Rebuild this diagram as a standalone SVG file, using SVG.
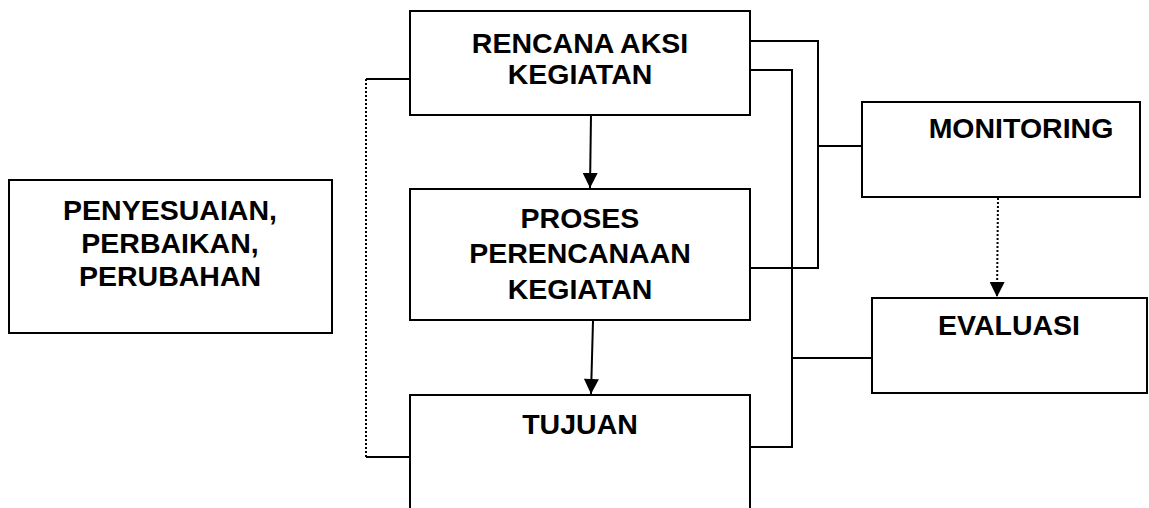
<svg xmlns="http://www.w3.org/2000/svg" width="1149" height="508" viewBox="0 0 1149 508">
<style>
.box{fill:#fff;stroke:#000;stroke-width:2}
.lbl{font-family:"Liberation Sans",Arial,sans-serif;font-weight:bold;font-size:28.5px;fill:#000;text-anchor:middle}
.ln{fill:none;stroke:#000;stroke-width:2}
.dot{fill:none;stroke:#000;stroke-width:2;stroke-dasharray:2 2}
</style>
<defs>
<marker id="ah" viewBox="0 0 10 10" refX="10" refY="5" markerWidth="16" markerHeight="15" markerUnits="userSpaceOnUse" orient="auto">
<path d="M0,0 L10,5 L0,10 Z" fill="#000"/>
</marker>
</defs>
<g id="connectors">
<polyline class="ln" points="750,41 818,41 818,268 750,268"/>
<polyline class="ln" points="750,70 792,70 792,447 750,447"/>
<line class="ln" x1="818" y1="146" x2="862" y2="146"/>
<line class="ln" x1="792" y1="358" x2="872" y2="358"/>
<line class="ln" x1="410" y1="79" x2="366" y2="79"/>
<line class="ln" x1="410" y1="457" x2="366" y2="457"/>
<line class="dot" x1="366" y1="79" x2="366" y2="457"/>
<line class="ln" x1="591" y1="115" x2="590" y2="188" marker-end="url(#ah)"/>
<line class="ln" x1="593" y1="321" x2="591" y2="394" marker-end="url(#ah)"/>
<line class="dot" x1="998" y1="198" x2="997" y2="297" marker-end="url(#ah)"/>
</g>
<g id="rencana">
<rect class="box" x="410" y="11" width="340" height="104"/>
<text class="lbl" x="580" y="53">RENCANA AKSI</text>
<text class="lbl" x="580" y="84">KEGIATAN</text>
</g>
<g id="proses">
<rect class="box" x="410" y="189" width="340" height="131"/>
<text class="lbl" x="580" y="228">PROSES</text>
<text class="lbl" x="580" y="263">PERENCANAAN</text>
<text class="lbl" x="580" y="299">KEGIATAN</text>
</g>
<g id="tujuan">
<rect class="box" x="410" y="395" width="340" height="130"/>
<text class="lbl" x="580" y="434">TUJUAN</text>
</g>
<g id="penyesuaian">
<rect class="box" x="9" y="180" width="323" height="153"/>
<text class="lbl" x="170" y="220">PENYESUAIAN,</text>
<text class="lbl" x="170" y="253">PERBAIKAN,</text>
<text class="lbl" x="170" y="286">PERUBAHAN</text>
</g>
<g id="monitoring">
<rect class="box" x="862" y="102" width="278" height="95"/>
<text class="lbl" x="1021" y="138">MONITORING</text>
</g>
<g id="evaluasi">
<rect class="box" x="872" y="298" width="275" height="95"/>
<text class="lbl" x="1009" y="335">EVALUASI</text>
</g>
</svg>
